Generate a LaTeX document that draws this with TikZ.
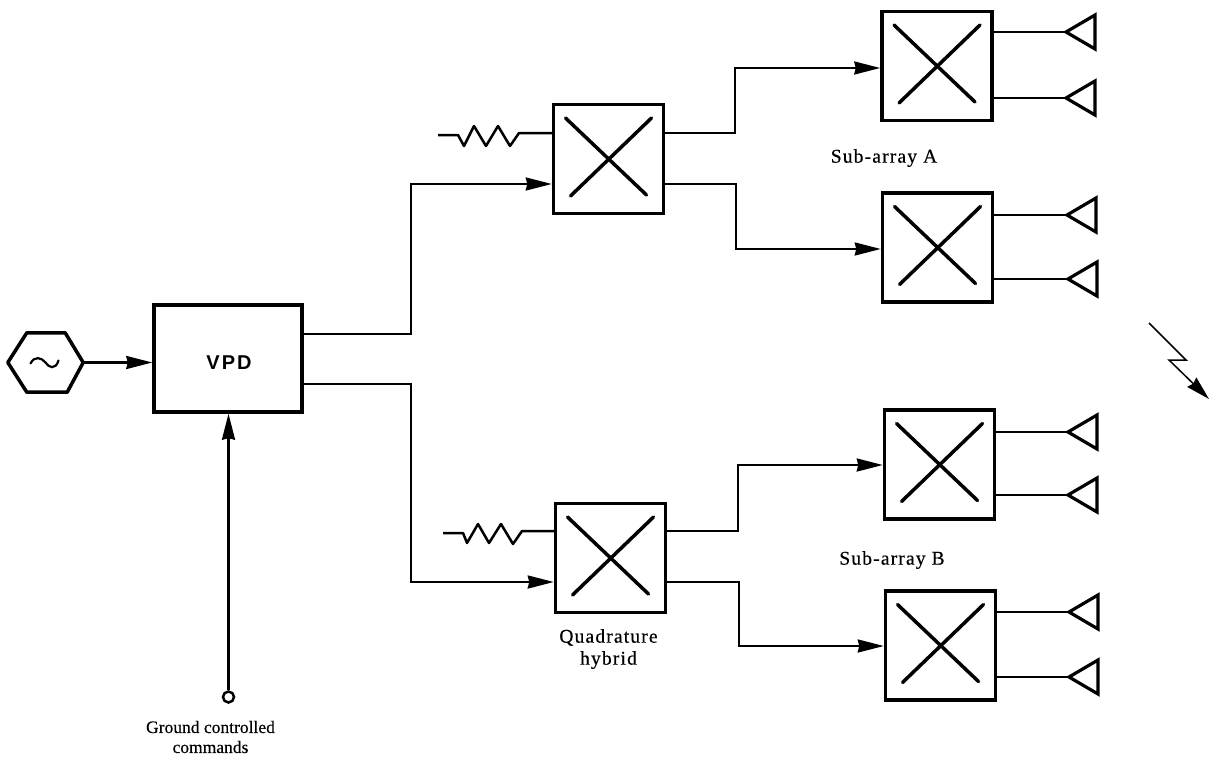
\documentclass[tikz,border=0pt]{standalone}
\usepackage{fontspec}
\setmainfont[FakeBold=0.3]{Liberation Serif}
\newfontfamily\vpdfont[LetterSpace=10]{Liberation Sans}
\newfontfamily\widefont[LetterSpace=6,FakeBold=0.4]{Liberation Serif}
\usetikzlibrary{arrows.meta,calc}
\tikzset{
  x=1pt,y=-1pt,
  boxnode/.style={draw=black,line width=3.5pt,fill=none,rectangle,inner sep=0pt,minimum width=110pt,minimum height=109pt},
  wire/.style={draw=black,line width=2.2pt},
  arrowwire/.style={wire,-{Stealth[length=26pt,width=13pt,inset=1.5pt]}},
  crossline/.style={draw=black,line width=3.5pt,line cap=round},
  antenna/.style={draw=black,line width=3.2pt,line join=miter},
  lbl/.style={font=\widefont\fontsize{19.5}{22}\selectfont,align=center,inner sep=0pt},
  plainlbl/.style={font=\fontsize{17.5}{20}\selectfont,align=center,inner sep=0pt},
}
\newcommand{\crossin}[1]{%
  \draw[crossline] ($(#1.center)+(-43,-41)$) -- ($(#1.center)+(38,36)$);
  \draw[crossline] ($(#1.center)+(-38,37)$) -- ($(#1.center)+(43,-41)$);
}
\newcommand{\antennaat}[3]{%
  \coordinate (#1) at (#2,#3);
  \draw[antenna] (#1) -- ++(29,-17) -- ++(0,34) -- cycle;
}
\begin{document}
\begin{tikzpicture}
\useasboundingbox (0,0) rectangle (1212,760);
% oscillator
\node (osc) [rectangle,minimum width=75pt,minimum height=59pt,inner sep=0pt] at (45.5,362.5) {};
\draw[draw=black,line width=3.5pt,line join=round]
  (osc.west) -- ($(osc.north west)+(19,0)$) -- ($(osc.north east)+(-18,0)$) -- (osc.east)
  -- ($(osc.south east)+(-16,0)$) -- ($(osc.south west)+(19,0)$) -- cycle;
\draw[line width=2.2pt,line cap=round] ($(osc.center)+(-15,1)$) .. controls ($(osc.center)+(-11,-7)$) and ($(osc.center)+(-4,-5)$) .. ($(osc.center)+(0,0)$) .. controls ($(osc.center)+(3,5)$) and ($(osc.center)+(10,8)$) .. ($(osc.center)+(13,-2)$);
% VPD
\node (vpd) [boxnode,minimum width=148pt,minimum height=107pt] at (228,358.5) {};
\node (vpdl) [inner sep=0pt,font=\vpdfont\bfseries\fontsize{20}{24}\selectfont] at (229,363) {VPD};
% hybrids
\node (h1) [boxnode] at (608.5,159) {};
\node (h2) [boxnode] at (610.5,558) {};
\crossin{h1}\crossin{h2}
% output boxes
\node (a1) [boxnode] at (937,66) {};
\node (a2) [boxnode] at (937.5,247.5) {};
\node (b1) [boxnode] at (939.5,464.5) {};
\node (b2) [boxnode] at (940.5,645.5) {};
\crossin{a1}\crossin{a2}\crossin{b1}\crossin{b2}
% antennas
\antennaat{t1}{1066}{32}
\antennaat{t2}{1066}{98}
\antennaat{t3}{1067}{215}
\antennaat{t4}{1068}{279}
\antennaat{t5}{1068}{432}
\antennaat{t6}{1068}{495}
\antennaat{t7}{1069}{612}
\antennaat{t8}{1069}{677}
\foreach \b/\t in {a1/t1,a1/t2,a2/t3,a2/t4,b1/t5,b1/t6,b2/t7,b2/t8}
  \draw[wire] (\b.east |- \t) -- (\t);
% main connectors
\draw[arrowwire] (osc.east) -- (vpd.west |- osc.east);
\coordinate (v1) at (vpd.east |- 0,334);
\coordinate (v2) at (vpd.east |- 0,384);
\draw[arrowwire] (v1) -| (411,184) -- (h1.west |- 0,184);
\draw[arrowwire] (v2) -| (411,582) -- (h2.west |- 0,582);
\draw[arrowwire] (h1.east |- 0,133) -| (735,68) -- (a1.west |- 0,68);
\draw[arrowwire] (h1.east |- 0,184) -| (736,249) -- (a2.west |- 0,249);
\draw[arrowwire] (h2.east |- 0,531) -| (738,465) -- (b1.west |- 0,465);
\draw[arrowwire] (h2.east |- 0,582) -| (739,646) -- (b2.west |- 0,646);
% ground
\node (gnd) [draw=black,line width=2.5pt,circle,minimum size=11pt,inner sep=0pt] at (228.5,697) {};
\draw[arrowwire] (gnd.north) -- (gnd.north |- vpd.south);
% terminations
\draw[wire,line width=2.5pt,line join=round] (438,135) -- (458,135) -- (464,146) -- (474,126) -- (486,146) -- (498,126) -- (510,146) -- (519,133) -- (h1.west |- 0,133);
\draw[wire,line width=2.5pt,line join=round] (443,533) -- (463,533) -- (467,543) -- (478,524) -- (489,543) -- (501,524) -- (513,544) -- (522,531) -- (h2.west |- 0,531);
% radiation symbol
\draw[line width=1.5pt,-{Stealth[length=24pt,width=13pt,inset=2pt]}] (1149,323) -- (1186,360) -- (1169,360) -- (1209,399);
% labels
\node (sa) [lbl] at (884,158) {Sub-array A};
\node (sb) [lbl] at (892,560) {Sub-array B};
\node (qh) [lbl] at (608.5,649) {Quadrature\\hybrid};
\node (gc) [plainlbl] at (210.5,737) {Ground controlled\\commands};
\end{tikzpicture}
\end{document}
